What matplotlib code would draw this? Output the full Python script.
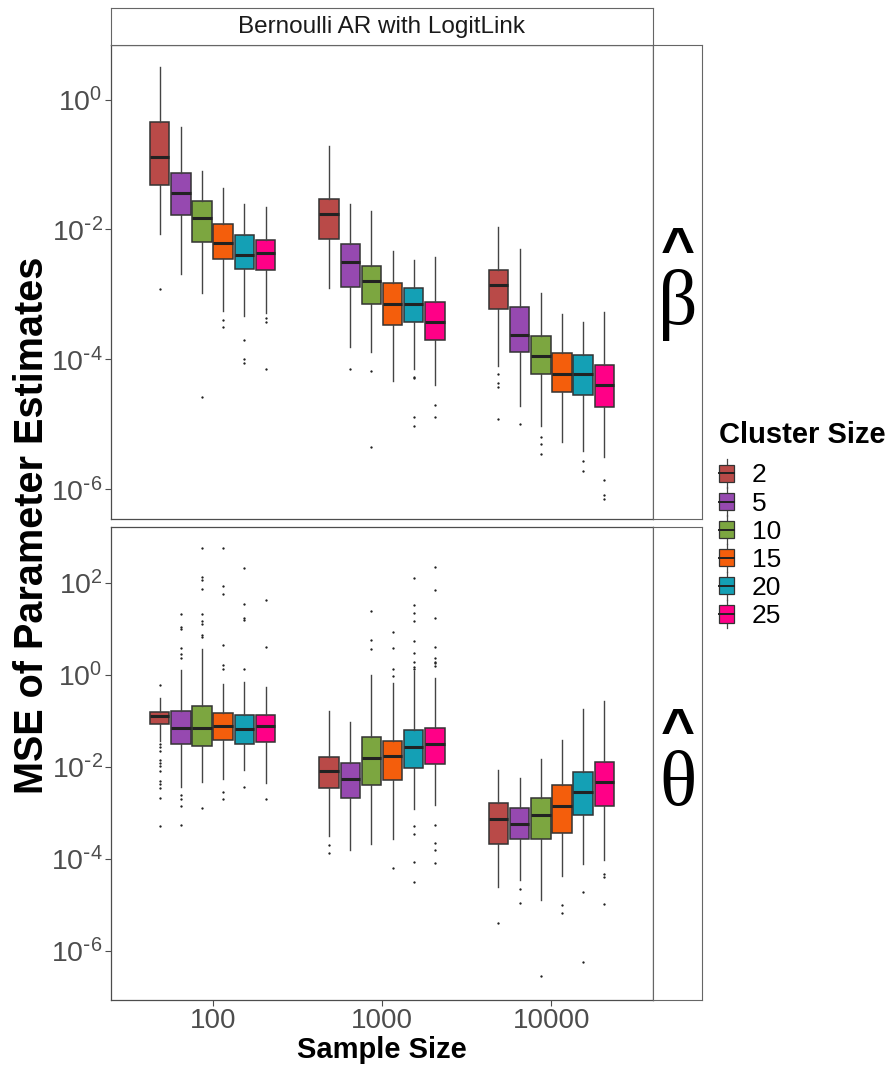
import matplotlib
matplotlib.use("Agg")
import numpy as np
import matplotlib.pyplot as plt
from matplotlib.patches import Rectangle
from matplotlib.lines import Line2D
from matplotlib.legend_handler import HandlerBase
from matplotlib.ticker import FixedLocator, NullLocator, FuncFormatter

plt.rcParams['font.family'] = ['Liberation Sans', 'DejaVu Sans']

sample_sizes = ['100', '1000', '10000']
cluster_sizes = ['2', '5', '10', '15', '20', '25']
colors = ['#B94A48', '#9649B0', '#7CA640', '#F45E0C', '#14A0B5', '#FF0087']

# ---- beta hat panel: rows = sample size, cols = cluster size ----
beta_whishi = [[3.2, 0.38, 8.0e-2, 4.4e-2, 2.45e-2, 2.2e-2],
               [0.19, 2.45e-2, 1.93e-2, 4.7e-3, 3.4e-3, 3.8e-3],
               [1.1e-2, 5.0e-3, 1.07e-3, 5.0e-4, 3.8e-4, 5.4e-4]]
beta_q3 = [[0.455, 7.5e-2, 2.7e-2, 1.2e-2, 8.2e-3, 6.9e-3],
           [2.9e-2, 6.0e-3, 2.7e-3, 1.48e-3, 1.26e-3, 7.6e-4],
           [2.4e-3, 6.3e-4, 2.3e-4, 1.26e-4, 1.17e-4, 8.1e-5]]
beta_med = [[0.132, 3.7e-2, 1.5e-2, 6.3e-3, 4.0e-3, 4.4e-3],
            [1.75e-2, 3.2e-3, 1.62e-3, 7.2e-4, 7.2e-4, 3.8e-4],
            [1.41e-3, 2.4e-4, 1.12e-4, 5.9e-5, 5.9e-5, 4.1e-5]]
beta_q1 = [[4.8e-2, 1.65e-2, 6.5e-3, 3.5e-3, 2.45e-3, 2.4e-3],
           [7.2e-3, 1.29e-3, 7.1e-4, 3.4e-4, 3.8e-4, 2.0e-4],
           [5.9e-4, 1.29e-4, 5.9e-5, 3.2e-5, 2.8e-5, 1.82e-5]]
beta_whislo = [[8.5e-3, 2.1e-3, 1.07e-3, 5.6e-4, 4.7e-4, 5.1e-4],
               [1.26e-3, 1.58e-4, 1.32e-4, 4.7e-5, 7.1e-5, 4.0e-5],
               [7.8e-5, 1.95e-5, 9.5e-6, 5.4e-6, 3.9e-6, 3.1e-6]]
beta_fliers = [[[1.2e-3], [], [2.6e-5], [4.1e-4, 3.2e-4], [2.0e-4, 1.02e-4, 8.7e-5], [4.4e-4, 3.8e-4, 7.1e-5]],
               [[], [7.1e-5], [6.6e-5, 4.5e-6], [], [5.4e-5, 5.1e-5, 1.32e-5, 9.5e-6], [2.0e-5, 1.32e-5]],
               [[6.0e-5, 4.4e-5, 3.7e-5, 1.2e-5], [1.0e-5], [6.5e-6, 5.0e-6, 3.5e-6], [], [2.7e-6, 1.95e-6],
                [1.41e-6, 8.1e-7, 7.2e-7]]]

# ---- theta hat panel ----
theta_whishi = [[0.32, 1.3, 3.6, 0.65, 0.70, 0.54],
                [0.162, 9.5e-2, 1.0, 0.68, 1.23, 0.87],
                [8.5e-3, 5.8e-3, 1.48e-2, 3.8e-2, 0.18, 0.275]]
theta_q3 = [[0.158, 0.162, 0.21, 0.15, 0.132, 0.133],
            [1.66e-2, 1.23e-2, 4.4e-2, 3.7e-2, 6.5e-2, 7.2e-2],
            [1.62e-3, 1.29e-3, 2.1e-3, 4.0e-3, 7.8e-3, 1.26e-2]]
theta_med = [[0.127, 7.2e-2, 7.1e-2, 7.8e-2, 6.6e-2, 7.8e-2],
             [8.3e-3, 5.6e-3, 1.58e-2, 1.74e-2, 2.7e-2, 3.1e-2],
             [7.4e-4, 5.8e-4, 8.9e-4, 1.38e-3, 2.8e-3, 4.8e-3]]
theta_q1 = [[8.4e-2, 3.2e-2, 2.8e-2, 3.9e-2, 3.1e-2, 3.5e-2],
            [3.4e-3, 2.1e-3, 4.1e-3, 5.1e-3, 9.5e-3, 1.15e-2],
            [2.1e-4, 2.75e-4, 2.7e-4, 3.7e-4, 8.9e-4, 1.41e-3]]
theta_whislo = [[3.7e-2, 3.6e-3, 4.6e-3, 5.6e-3, 8.5e-3, 4.5e-3],
                [3.1e-4, 1.58e-4, 2.1e-4, 2.75e-4, 1.2e-3, 1.5e-3],
                [2.5e-5, 3.5e-5, 1.26e-5, 4.3e-5, 7.9e-5, 9.5e-5]]
theta_fliers = [[[0.62, 3.1e-2, 2.65e-2, 2.2e-2, 1.45e-2, 1.23e-2, 1.05e-2, 8.1e-3, 4.9e-3, 4.2e-3, 3.4e-3, 2.1e-3, 5.2e-4],
                 [21, 11.2, 10, 3.9, 2.8, 2.3, 2.5e-3, 2.0e-3, 1.38e-3, 5.5e-4],
                 [575, 138, 115, 74, 21, 15, 13, 7.6, 6.6, 1.26e-3],
                 [575, 87, 58, 4.5, 1.66, 1.38, 2.9e-3, 2.0e-3],
                 [214, 35, 17, 16, 1.38, 3.6e-3],
                 [43, 4.1, 2.0e-3]],
                [[2.0e-4, 1.35e-4],
                 [],
                 [25, 5.9, 3.6],
                 [8.5, 3.8, 1.35, 0.97, 6.2e-5],
                 [129, 34, 22, 15, 5.5, 2.95, 1.95, 1.5, 1.38, 5.2e-4, 3.4e-4, 8.7e-5, 3.1e-5],
                 [224, 71, 17, 4.1, 2.35, 1.95, 1.82, 1.55, 5.5e-4, 2.2e-4, 1.55e-4, 8.1e-5]],
                [[4.0e-6], [2.2e-5, 1.1e-5], [2.9e-7], [1.0e-5, 6.8e-6], [1.9e-5, 5.8e-7], [4.8e-5, 4.1e-5, 1.05e-5]]]

panels = [
    dict(ylim=(3.5e-7, 6.9), ticks=[1, 1e-2, 1e-4, 1e-6],
         hi=beta_whishi, q3=beta_q3, med=beta_med, q1=beta_q1, lo=beta_whislo, fl=beta_fliers),
    dict(ylim=(8.5e-8, 1660), ticks=[1e2, 1, 1e-2, 1e-4, 1e-6],
         hi=theta_whishi, q3=theta_q3, med=theta_med, q1=theta_q1, lo=theta_whislo, fl=theta_fliers),
]
greek = ['\u03b2', '\u03b8']

W, H = 893, 1067
fig = plt.figure(figsize=(W / 100, H / 100), dpi=100)


def fx(px):
    return px / W


def fy(px):
    return 1 - px / H


def pow10(v, pos):
    e = int(round(np.log10(v)))
    if e < 0:
        return r'$\mathdefault{10^{\text{-}%d}}$' % (-e)
    return r'$\mathdefault{10^{%d}}$' % e


left, right = 111, 653
panel_y = [(45, 519), (527, 1000)]
border = '#4D4D4D'
dodge = 0.125
bw = 0.115

for k, p in enumerate(panels):
    top, bot = panel_y[k]
    ax = fig.add_axes([fx(left), fy(bot), fx(right - left), (bot - top) / H])
    for g in range(len(sample_sizes)):
        stats, pos = [], []
        for c in range(len(cluster_sizes)):
            stats.append(dict(med=p['med'][g][c], q1=p['q1'][g][c], q3=p['q3'][g][c],
                              whislo=p['lo'][g][c], whishi=p['hi'][g][c], fliers=p['fl'][g][c]))
            pos.append(g + (c - 2.5) * dodge)
        bp = ax.bxp(stats, positions=pos, widths=bw, patch_artist=True, showcaps=False,
                    boxprops=dict(edgecolor='#333333', linewidth=1.1),
                    medianprops=dict(color='#222222', linewidth=2.2),
                    whiskerprops=dict(color='#444444', linewidth=1.0),
                    flierprops=dict(marker='o', markersize=1.3, markerfacecolor='#222222',
                                    markeredgecolor='#222222', markeredgewidth=0.3, linestyle='none'),
                    manage_ticks=False)
        for patch, col in zip(bp['boxes'], colors):
            patch.set_facecolor(col)
    ax.set_yscale('log')
    ax.set_ylim(*p['ylim'])
    ax.set_xlim(-0.6, 2.6)
    ax.yaxis.set_major_locator(FixedLocator(p['ticks']))
    ax.yaxis.set_minor_locator(NullLocator())
    ax.yaxis.set_major_formatter(FuncFormatter(pow10))
    ax.tick_params(axis='y', labelsize=20.5, labelcolor='#4D4D4D', color='#4D4D4D', length=4, pad=2)
    ax.set_xticks(range(len(sample_sizes)))
    if k == 1:
        ax.set_xticklabels(sample_sizes)
        ax.tick_params(axis='x', labelsize=20, labelcolor='#4D4D4D', color='#4D4D4D', length=4, pad=2)
    else:
        ax.tick_params(axis='x', length=0, labelbottom=False)
    for s in ax.spines.values():
        s.set_color(border)
        s.set_linewidth(0.9)

    # right-hand strip with hat symbol
    sax = fig.add_axes([fx(right), fy(bot), fx(702 - right), (bot - top) / H])
    sax.set_xticks([])
    sax.set_yticks([])
    for s in sax.spines.values():
        s.set_color('#666666')
        s.set_linewidth(0.8)
    sax.text(0.5, 0.5 + 30 / (bot - top), '^', ha='center', va='center', fontsize=42,
             fontweight='bold', transform=sax.transAxes, color='black')
    sax.text(0.5, 0.5 - 23 / (bot - top), greek[k], ha='center', va='center', fontsize=56,
             family=['Liberation Serif', 'DejaVu Serif'], transform=sax.transAxes, color='black')

# top strip
tax = fig.add_axes([fx(left), fy(45), fx(right - left), 37 / H])
tax.set_xticks([])
tax.set_yticks([])
for s in tax.spines.values():
    s.set_color('#666666')
    s.set_linewidth(0.8)
tax.text(0.5, 0.48, 'Bernoulli AR with LogitLink', ha='center', va='center', fontsize=17.5,
         color='#1A1A1A', transform=tax.transAxes)

fig.text(fx(382), fy(1050), 'Sample Size', ha='center', va='center', fontsize=21, fontweight='bold')
fig.text(fx(32), fy(525), 'MSE of Parameter Estimates', ha='center', va='center', rotation=90,
         fontsize=28.5, fontweight='bold')


class BoxKey(HandlerBase):
    def create_artists(self, legend, orig_handle, xdescent, ydescent, width, height, fontsize, trans):
        x0, y0 = -xdescent, -ydescent
        cx = x0 + width / 2
        bwid = width * 0.8
        rect = Rectangle((cx - bwid / 2, y0 + height * 0.12), bwid, height * 0.76,
                         facecolor=orig_handle.get_facecolor(), edgecolor='#333333', linewidth=0.9,
                         transform=trans)
        med = Line2D([cx - bwid / 2, cx + bwid / 2], [y0 + height / 2] * 2, color='#222222',
                     linewidth=1.4, transform=trans)
        w1 = Line2D([cx, cx], [y0 - height * 0.12, y0 + height * 0.12], color='#444444', linewidth=0.9,
                    transform=trans)
        w2 = Line2D([cx, cx], [y0 + height * 0.88, y0 + height * 1.12], color='#444444', linewidth=0.9,
                    transform=trans)
        return [w1, w2, rect, med]


fig.text(fx(719), fy(435), 'Cluster Size', ha='left', va='center', fontsize=21, fontweight='bold')
handles = [Rectangle((0, 0), 1, 1, facecolor=c) for c in colors]
leg = fig.legend(handles, cluster_sizes, loc='center left',
                 bbox_to_anchor=(fx(707), fy(545)), frameon=False, fontsize=19,
                 handler_map={Rectangle: BoxKey()}, handlelength=0.7, handleheight=0.95,
                 handletextpad=0.6, labelspacing=0.1, borderaxespad=0)

fig.savefig('out.png', dpi=100)
